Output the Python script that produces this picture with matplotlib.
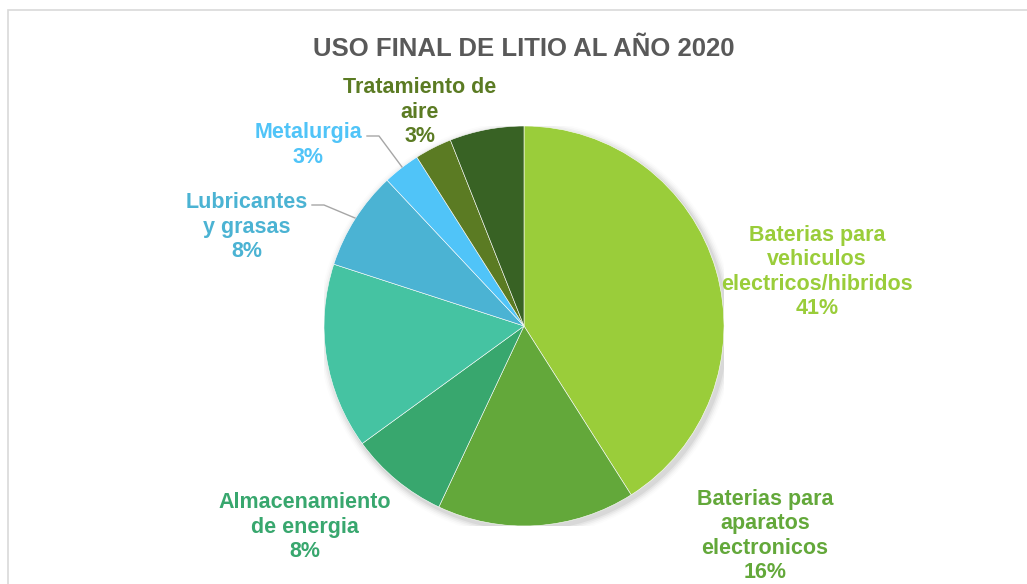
import matplotlib
matplotlib.use("Agg")
import matplotlib.pyplot as plt
from matplotlib.patches import Rectangle, Circle

plt.rcParams['font.family'] = ['Liberation Sans', 'DejaVu Sans']

# ---- data ----
categories = [
    "Baterias para\nvehiculos\nelectricos/hibridos",
    "Baterias para\naparatos\nelectronicos",
    "Almacenamiento\nde energia",
    "",
    "Lubricantes\ny grasas",
    "Metalurgia",
    "Tratamiento de\naire",
    "",
]
values = [41, 16, 8, 15, 8, 3, 3, 6]
show_label = [True, True, True, False, True, True, True, False]
colors = ["#9ACD3A", "#63A83A", "#38A76E", "#45C3A2",
          "#4BB3D3", "#50C4F8", "#5B7B23", "#386224"]
title = "USO FINAL DE LITIO AL AÑO 2020"

# ---- layout (pixels) ----
W, H = 1027, 584
DPI = 100
cx, cy, R = 524, 326, 200
label_pos = {0: (817, 272), 1: (765, 536), 2: (305, 527), 4: (247, 227),
             5: (308, 145), 6: (420, 112)}
leaders = {5: [(367, 136), (379, 136), (402, 167)],
           4: [(312, 205), (324, 205), (355, 218)]}

fig = plt.figure(figsize=(W / DPI, H / DPI), dpi=DPI)
fig.patch.set_facecolor("white")

# chart border (cropped on right/bottom)
fig.patches.append(Rectangle((8 / W, -0.1), 1.2, (H - 10) / H + 0.1,
                             transform=fig.transFigure, fill=False,
                             edgecolor="#D9D9D9", linewidth=1.2))

ax = fig.add_axes([(cx - R) / W, (H - cy - R) / H, 2 * R / W, 2 * R / H])
ax.set_xlim(-1, 1)
ax.set_ylim(-1, 1)
ax.set_aspect("equal")
ax.axis("off")

# soft shadow
for i, a in enumerate([0.05, 0.04, 0.03, 0.02, 0.012]):
    ax.add_patch(Circle((0.012, -0.015), 1.0 + 0.008 * (i + 1),
                        facecolor="black", alpha=a, edgecolor="none", zorder=0))

wedges, _ = ax.pie(values, colors=colors, startangle=90, counterclock=False,
                   radius=1.0, wedgeprops=dict(edgecolor="white", linewidth=0.4),
                   normalize=True)
for w in wedges:
    w.set_zorder(2)
ax.set_xlim(-1, 1)
ax.set_ylim(-1, 1)

fig.text(cx / W, 1 - 49 / H, title, ha="center", va="center",
         fontsize=18.5, fontweight="bold", color="#595959")

for i, (name, v) in enumerate(zip(categories, values)):
    if not show_label[i]:
        continue
    px, py = label_pos[i]
    fig.text(px / W, 1 - py / H, f"{name}\n{v}%", ha="center", va="center",
             fontsize=15.5, fontweight="bold", color=colors[i], linespacing=1.2)

for i, pts in leaders.items():
    xs = [p[0] / W for p in pts]
    ys = [1 - p[1] / H for p in pts]
    fig.lines.append(plt.Line2D(xs, ys, transform=fig.transFigure,
                                color="#A6A6A6", linewidth=1.0))

fig.savefig("out.png", dpi=DPI)
